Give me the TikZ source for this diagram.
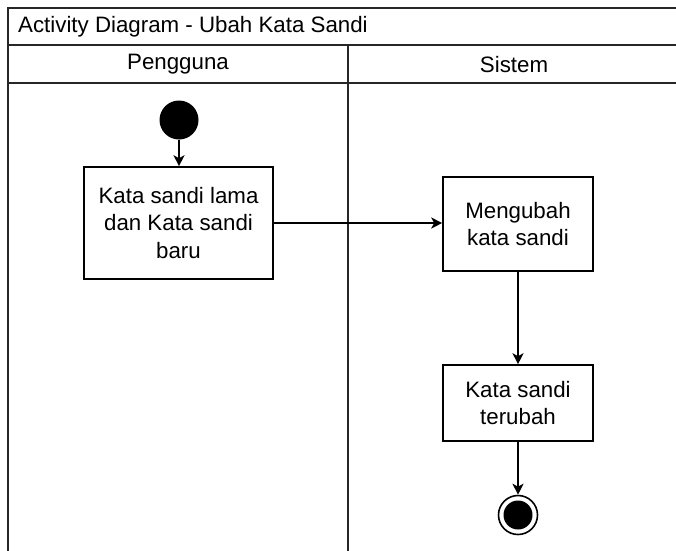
\documentclass[tikz,border=0pt]{standalone}
\usepackage{fontspec}
\setmainfont{Liberation Sans}
\usetikzlibrary{arrows.meta}
\begin{document}
\begin{tikzpicture}[x=1pt,y=-1pt,
  lane/.style={line width=1.6pt, draw=black!85},
  act/.style={draw, line width=1.6pt, align=center, inner sep=0pt,
    font=\fontsize{22.3}{27.5}\selectfont},
  flow/.style={line width=1.6pt, -{Stealth[length=11pt,width=11pt,inset=3pt]}},
  lbl/.style={font=\fontsize{22.3}{26}\selectfont, inner sep=0pt}]
\useasboundingbox (0,0) rectangle (676,550);
\clip (0,0) rectangle (676,550);
% swimlane frame
\draw[lane] (8,560) -- (8,8) -- (690,8);
\draw[lane] (8,45) -- (690,45);
\draw[lane] (8,83) -- (690,83);
\draw[lane] (348,45) -- (348,560);
\node[lbl, anchor=west] (title) at (18,26.5) {Activity Diagram - Ubah Kata Sandi};
\node[lbl] (lane1) at (178,64.5) {Pengguna};
\node[lbl] (lane2) at (514,64.5) {Sistem};
% activity nodes
\node[circle, fill=black, minimum size=39pt, inner sep=0pt] (start) at (179,120) {};
\node[act, minimum width=189pt, minimum height=112pt] (a1) at (178.5,223) {Kata sandi lama\\dan Kata sandi\\baru};
\node[act, minimum width=150pt, minimum height=94pt] (a2) at (518,224) {Mengubah\\kata sandi};
\node[act, minimum width=150pt, minimum height=76pt] (a3) at (518,403) {Kata sandi\\terubah};
\node[circle, draw, line width=1.6pt, minimum size=39pt, inner sep=0pt] (end) at (518,515) {};
\node[circle, fill=black, minimum size=29pt, inner sep=0pt] (endin) at (end) {};
% control flow
\draw[flow] (start) -- (start |- a1.north);
\draw[flow] (a1.east) -- (a1.east -| a2.west);
\draw[flow] (a2) -- (a3);
\draw[flow] (a3) -- (end);
\end{tikzpicture}
\end{document}
